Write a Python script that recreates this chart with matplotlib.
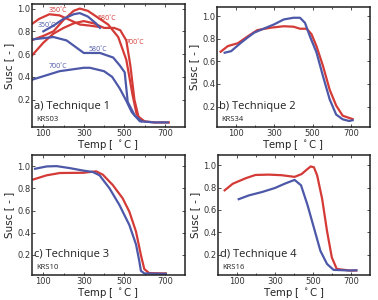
import matplotlib
matplotlib.use('Agg')
import matplotlib.pyplot as plt
from matplotlib.ticker import FixedLocator

RED = '#d43a36'
BLUE = '#4d58a8'

# ---- panel a (KRS03), stepwise runs
a_red_350_T = [40, 80, 130, 180, 230, 280, 330, 370]
a_red_350_v = [0.86, 0.91, 0.95, 0.94, 0.90, 0.86, 0.85, 0.84]
a_red_580_T = [40, 100, 150, 200, 250, 280, 320, 370, 420, 470, 510, 540, 560, 580]
a_red_580_v = [0.72, 0.76, 0.80, 0.90, 0.98, 1.0, 0.98, 0.92, 0.86, 0.75, 0.55, 0.25, 0.08, 0.02]
a_red_700_T = [40, 100, 150, 200, 250, 300, 350, 400, 450, 480, 510, 530, 550, 570, 600, 650, 720]
a_red_700_v = [0.58, 0.70, 0.78, 0.83, 0.87, 0.89, 0.87, 0.83, 0.83, 0.81, 0.72, 0.50, 0.20, 0.05, 0.01, 0.0, 0.0]
a_blue_350_T = [100, 150, 200, 250, 280, 320, 360, 380]
a_blue_350_v = [0.80, 0.85, 0.91, 0.95, 0.96, 0.93, 0.87, 0.83]
a_blue_580_T = [50, 150, 215, 300, 380, 445, 478, 502, 517, 552, 586]
a_blue_580_v = [0.73, 0.75, 0.72, 0.61, 0.61, 0.57, 0.50, 0.44, 0.18, 0.06, 0.01]
a_blue_700_T = [35, 180, 300, 330, 400, 440, 477, 510, 537, 577, 650, 715]
a_blue_700_v = [0.37, 0.45, 0.48, 0.48, 0.45, 0.40, 0.30, 0.19, 0.09, 0.01, 0.0, 0.0]

# ---- panel b (KRS34)
b_red_T = [19, 57, 109, 160, 211, 280, 349, 400, 434, 469, 494, 520, 554, 589, 623, 657, 691, 709]
b_red_v = [0.685, 0.735, 0.76, 0.82, 0.876, 0.897, 0.91, 0.906, 0.888, 0.888, 0.84, 0.735, 0.56, 0.35, 0.21, 0.12, 0.10, 0.09]
b_blue_T = [40, 74, 126, 160, 194, 246, 298, 349, 400, 434, 460, 486, 520, 554, 589, 623, 657, 691, 709]
b_blue_v = [0.676, 0.69, 0.765, 0.81, 0.853, 0.89, 0.926, 0.97, 0.985, 0.985, 0.94, 0.82, 0.68, 0.47, 0.265, 0.13, 0.088, 0.073, 0.08]

# ---- panel c (KRS10)
c_red_T = [51, 116, 182, 296, 361, 394, 443, 492, 525, 558, 582, 599, 623, 705]
c_red_v = [0.88, 0.917, 0.938, 0.94, 0.953, 0.923, 0.83, 0.71, 0.59, 0.41, 0.20, 0.073, 0.037, 0.034]
c_blue_T = [59, 116, 165, 231, 296, 345, 378, 427, 476, 525, 558, 574, 582, 599, 705]
c_blue_v = [0.976, 0.997, 1.0, 0.982, 0.96, 0.947, 0.917, 0.80, 0.65, 0.47, 0.295, 0.147, 0.058, 0.034, 0.03]

# ---- panel d (KRS16)
d_red_T = [35, 78, 146, 197, 266, 334, 403, 440, 471, 488, 505, 522, 548, 574, 599, 625, 693, 728]
d_red_v = [0.775, 0.834, 0.883, 0.912, 0.915, 0.91, 0.895, 0.92, 0.965, 0.988, 0.98, 0.907, 0.70, 0.41, 0.177, 0.074, 0.06, 0.06]
d_blue_T = [109, 163, 232, 300, 351, 403, 437, 471, 505, 539, 574, 608, 693, 728]
d_blue_v = [0.696, 0.73, 0.76, 0.796, 0.834, 0.868, 0.82, 0.644, 0.44, 0.235, 0.118, 0.066, 0.06, 0.062]

fig = plt.figure(figsize=(3.78, 3.0), dpi=100)
W, H = 378., 300.


def box(l, r, t, b):
    return [l / W, 1 - b / H, (r - l) / W, (b - t) / H]


def style(ax, xlim, ylim, title, sample):
    ax.set_xlim(*xlim)
    ax.set_ylim(*ylim)
    ax.xaxis.set_major_locator(FixedLocator([100, 300, 500, 700]))
    ax.xaxis.set_minor_locator(FixedLocator([200, 400, 600]))
    ax.yaxis.set_major_locator(FixedLocator([0.2, 0.4, 0.6, 0.8, 1.0]))
    ax.tick_params(which='both', direction='in', top=True, right=True,
                   labelsize=6, colors='#333333', pad=1.2, length=2, width=0.6)
    ax.tick_params(which='minor', length=1.5)
    for s in ax.spines.values():
        s.set_color('#222222')
        s.set_linewidth(1.1)
    ax.set_xlabel(r'Temp [ $^\circ$C ]', fontsize=7.3, labelpad=0, color='#222222')
    ax.set_ylabel('Susc [ - ]', fontsize=7.5, labelpad=2, color='#222222')
    ax.text(0.015, 0.17, title, transform=ax.transAxes, fontsize=8,
            family='Open Sans', color='#222222', va='center')
    ax.text(0.025, 0.065, sample, transform=ax.transAxes, fontsize=5.5,
            family='Open Sans', color='#222222', va='center')


lw = 1.6

ax = fig.add_axes(box(32, 185, 4, 127))
ax.plot(a_red_350_T, a_red_350_v, color=RED, lw=lw)
ax.plot(a_red_580_T, a_red_580_v, color=RED, lw=lw)
ax.plot(a_red_700_T, a_red_700_v, color=RED, lw=lw)
ax.plot(a_blue_350_T, a_blue_350_v, color=BLUE, lw=lw)
ax.plot(a_blue_580_T, a_blue_580_v, color=BLUE, lw=lw)
ax.plot(a_blue_700_T, a_blue_700_v, color=BLUE, lw=lw)
for t, x, y, c in [('350˚C', 172, 0.98, RED), ('580˚C', 416, 0.91, RED),
                   ('700˚C', 551, 0.70, RED), ('350˚C', 116, 0.85, BLUE),
                   ('580˚C', 369, 0.64, BLUE), ('700˚C', 175, 0.49, BLUE)]:
    ax.text(x, y, t, color=c, fontsize=5, ha='center', va='center', family='Open Sans')
style(ax, (44, 800), (-0.04, 1.04), 'a) Technique 1', 'KRS03')

ax = fig.add_axes(box(217, 370, 7, 127))
ax.plot(b_red_T, b_red_v, color=RED, lw=lw)
ax.plot(b_blue_T, b_blue_v, color=BLUE, lw=lw)
style(ax, (0, 800), (0.02, 1.08), 'b) Technique 2', 'KRS34')

ax = fig.add_axes(box(32, 185, 155, 275))
ax.plot(c_red_T, c_red_v, color=RED, lw=lw)
ax.plot(c_blue_T, c_blue_v, color=BLUE, lw=lw)
style(ax, (44, 800), (0.02, 1.10), 'c) Technique 3', 'KRS10')

ax = fig.add_axes(box(218, 370, 155, 275))
ax.plot(d_red_T, d_red_v, color=RED, lw=lw)
ax.plot(d_blue_T, d_blue_v, color=BLUE, lw=lw)
style(ax, (0, 800), (0.02, 1.09), 'd) Technique 4', 'KRS16')

fig.savefig('out.png', dpi=100)
